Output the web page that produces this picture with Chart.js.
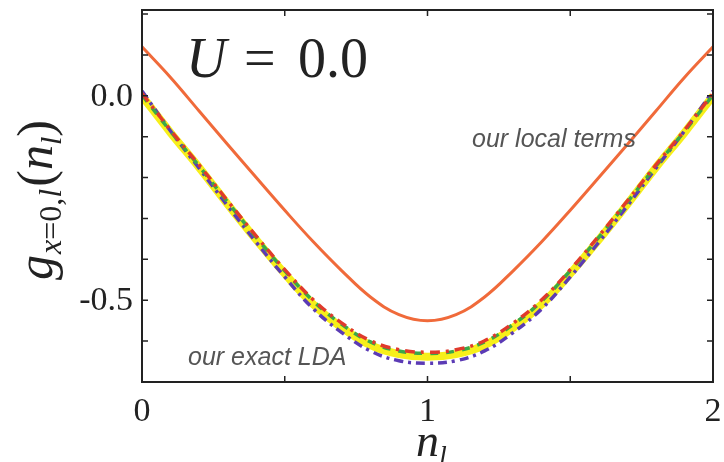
<!DOCTYPE html>
<html>
<head>
<meta charset="utf-8">
<script src="https://cdn.jsdelivr.net/npm/chart.js@4.4.0/dist/chart.umd.min.js"></script>
<style>
  html, body { margin: 0; padding: 0; background: #fff; }
  #wrap { width: 724px; height: 462px; }
</style>
</head>
<body>
<div id="wrap"><canvas id="plot" width="724" height="462"></canvas></div>
<script>
// densités n_l
const nValues = [0, 0.1, 0.2, 0.3, 0.4, 0.5, 0.6, 0.7, 0.8, 0.9, 1.0,
                 1.1, 1.2, 1.3, 1.4, 1.5, 1.6, 1.7, 1.8, 1.9, 2.0];
// courbe orange "our local terms"
const localTerms = [0.12, 0.045, -0.037, -0.119, -0.200, -0.280, -0.357, -0.428, -0.492, -0.535, -0.550,
                    -0.535, -0.492, -0.428, -0.357, -0.280, -0.200, -0.119, -0.037, 0.045, 0.12];
// courbes "our exact LDA"
const exactYellow = [0.0, -0.090, -0.175, -0.265, -0.352, -0.435, -0.510, -0.567, -0.610, -0.632, -0.638,
                     -0.632, -0.610, -0.567, -0.510, -0.435, -0.352, -0.265, -0.175, -0.090, 0.0];
const exactRed = [0.006, -0.084, -0.169, -0.257, -0.343, -0.425, -0.499, -0.556, -0.599, -0.621, -0.627,
                  -0.621, -0.599, -0.556, -0.499, -0.425, -0.343, -0.257, -0.169, -0.084, 0.006];
const exactGreen = [0.002, -0.087, -0.172, -0.260, -0.346, -0.428, -0.502, -0.559, -0.602, -0.624, -0.630,
                    -0.624, -0.602, -0.559, -0.502, -0.428, -0.346, -0.260, -0.172, -0.087, 0.002];
const exactPurple = [0.012, -0.086, -0.177, -0.269, -0.358, -0.443, -0.521, -0.579, -0.624, -0.648, -0.654,
                     -0.648, -0.624, -0.579, -0.521, -0.443, -0.358, -0.269, -0.177, -0.086, 0.012];
// graduations
const xTicks = [0, 0.5, 1, 1.5, 2];
const xLabels = ['0', '', '1', '', '2'];
const yTicks = [0.2, 0.1, 0.0, -0.1, -0.2, -0.3, -0.4, -0.5, -0.6];
const yLabels = ['', '', '0.0', '', '', '', '', '-0.5', ''];

const pts = (ys) => nValues.map((x, i) => ({ x: x, y: ys[i] }));

const serif = '"Liberation Serif", "DejaVu Serif", serif';
const sans = '"Liberation Sans", Arial, sans-serif';

// texte composé de morceaux (indices)
function subText(ctx, parts, x, y) {
    let cx = x;
    parts.forEach(p => {
        ctx.font = p.font;
        ctx.fillText(p.t, cx, y + (p.dy || 0));
        cx += ctx.measureText(p.t).width + (p.gap || 0);
    });
    return cx - x;
}
function measureParts(ctx, parts) {
    let w = 0;
    parts.forEach(p => { ctx.font = p.font; w += ctx.measureText(p.t).width + (p.gap || 0); });
    return w;
}

const decorPlugin = {
    id: 'decor',
    afterDraw(chart) {
        const ctx = chart.ctx;
        const a = chart.chartArea;
        const xs = chart.scales.x, ys = chart.scales.y;
        ctx.save();
        // cadre
        ctx.strokeStyle = '#222';
        ctx.lineWidth = 2;
        ctx.strokeRect(a.left, a.top, a.right - a.left, a.bottom - a.top);
        // graduations vers l'intérieur
        ctx.lineWidth = 1.5;
        ctx.beginPath();
        xTicks.forEach(t => {
            const px = xs.getPixelForValue(t);
            ctx.moveTo(px, a.bottom); ctx.lineTo(px, a.bottom - 6);
            ctx.moveTo(px, a.top); ctx.lineTo(px, a.top + 6);
        });
        yTicks.forEach(t => {
            const py = ys.getPixelForValue(t);
            ctx.moveTo(a.left, py); ctx.lineTo(a.left + 6, py);
            ctx.moveTo(a.right, py); ctx.lineTo(a.right - 6, py);
        });
        ctx.stroke();
        // étiquettes
        ctx.fillStyle = '#222';
        ctx.textBaseline = 'middle';
        ctx.font = '34px ' + serif;
        ctx.textAlign = 'center';
        xTicks.forEach((t, i) => {
            if (xLabels[i]) ctx.fillText(xLabels[i], xs.getPixelForValue(t), a.bottom + 30);
        });
        ctx.font = '34px ' + serif;
        ctx.textAlign = 'right';
        yTicks.forEach((t, i) => {
            if (yLabels[i]) ctx.fillText(yLabels[i], a.left - 9, ys.getPixelForValue(t) + 1);
        });
        // titre axe x : n_l
        ctx.textAlign = 'left';
        ctx.textBaseline = 'alphabetic';
        const xParts = [
            { t: 'n', font: 'italic 46px ' + serif },
            { t: 'l', font: 'italic 28px ' + serif, dy: 9 }
        ];
        const xw = measureParts(ctx, xParts);
        subText(ctx, xParts, (a.left + a.right) / 2 - xw / 2 + 4, 456);
        // titre axe y : g_{x=0,l}(n_l)
        const yParts = [
            { t: 'g', font: 'italic 50px ' + serif, gap: 1 },
            { t: 'x', font: 'italic 32px ' + serif, dy: 9 },
            { t: '=0,', font: '32px ' + serif, dy: 9 },
            { t: 'l', font: 'italic 32px ' + serif, dy: 9, gap: 2 },
            { t: '(', font: '50px ' + serif },
            { t: 'n', font: 'italic 50px ' + serif },
            { t: 'l', font: 'italic 30px ' + serif, dy: 9 },
            { t: ')', font: '50px ' + serif }
        ];
        const yw = measureParts(ctx, yParts);
        ctx.save();
        ctx.translate(52, 200);
        ctx.rotate(-Math.PI / 2);
        subText(ctx, yParts, -yw / 2, 0);
        ctx.restore();
        // U = 0.0
        ctx.font = 'italic 56px ' + serif;
        ctx.fillText('U', 186, 77);
        ctx.font = '56px ' + serif;
        ctx.fillText('=', 244, 77);
        ctx.fillText('0.0', 298, 77);
        // annotations
        ctx.fillStyle = '#555';
        ctx.font = 'italic 25px ' + sans;
        ctx.fillText('our local terms', 472, 147);
        ctx.fillText('our exact LDA', 188, 365);
        ctx.restore();
    }
};

const ctx = document.getElementById('plot').getContext('2d');
const common = { fill: false, pointRadius: 0, tension: 0.4 };

new Chart(ctx, {
    type: 'line',
    data: {
        datasets: [
            Object.assign({ label: 'exact yellow', data: pts(exactYellow), borderColor: '#f7ef1a', borderWidth: 8, order: 5 }, common),
            Object.assign({ label: 'exact purple', data: pts(exactPurple), borderColor: '#5b3bb5', borderWidth: 3.5, borderDash: [9, 5, 3, 5], order: 4 }, common),
            Object.assign({ label: 'exact green', data: pts(exactGreen), borderColor: '#3aa84a', borderWidth: 3.5, borderDash: [8, 8], order: 3 }, common),
            Object.assign({ label: 'exact red', data: pts(exactRed), borderColor: '#e03a2c', borderWidth: 3.5, borderDash: [10, 6, 3, 6], order: 2 }, common),
            Object.assign({ label: 'local terms', data: pts(localTerms), borderColor: '#f06a3a', borderWidth: 3, order: 1 }, common)
        ]
    },
    options: {
        responsive: false,
        animation: false,
        events: [],
        layout: { padding: { left: 142, right: 11, top: 10, bottom: 80 } },
        plugins: { legend: { display: false }, tooltip: { enabled: false } },
        scales: {
            x: {
                type: 'linear', min: 0, max: 2,
                grid: { display: false, drawTicks: false },
                border: { display: false },
                ticks: { display: false }
            },
            y: {
                type: 'linear', min: -0.7, max: 0.21,
                grid: { display: false, drawTicks: false },
                border: { display: false },
                ticks: { display: false }
            }
        }
    },
    plugins: [decorPlugin]
});
</script>
</body>
</html>
